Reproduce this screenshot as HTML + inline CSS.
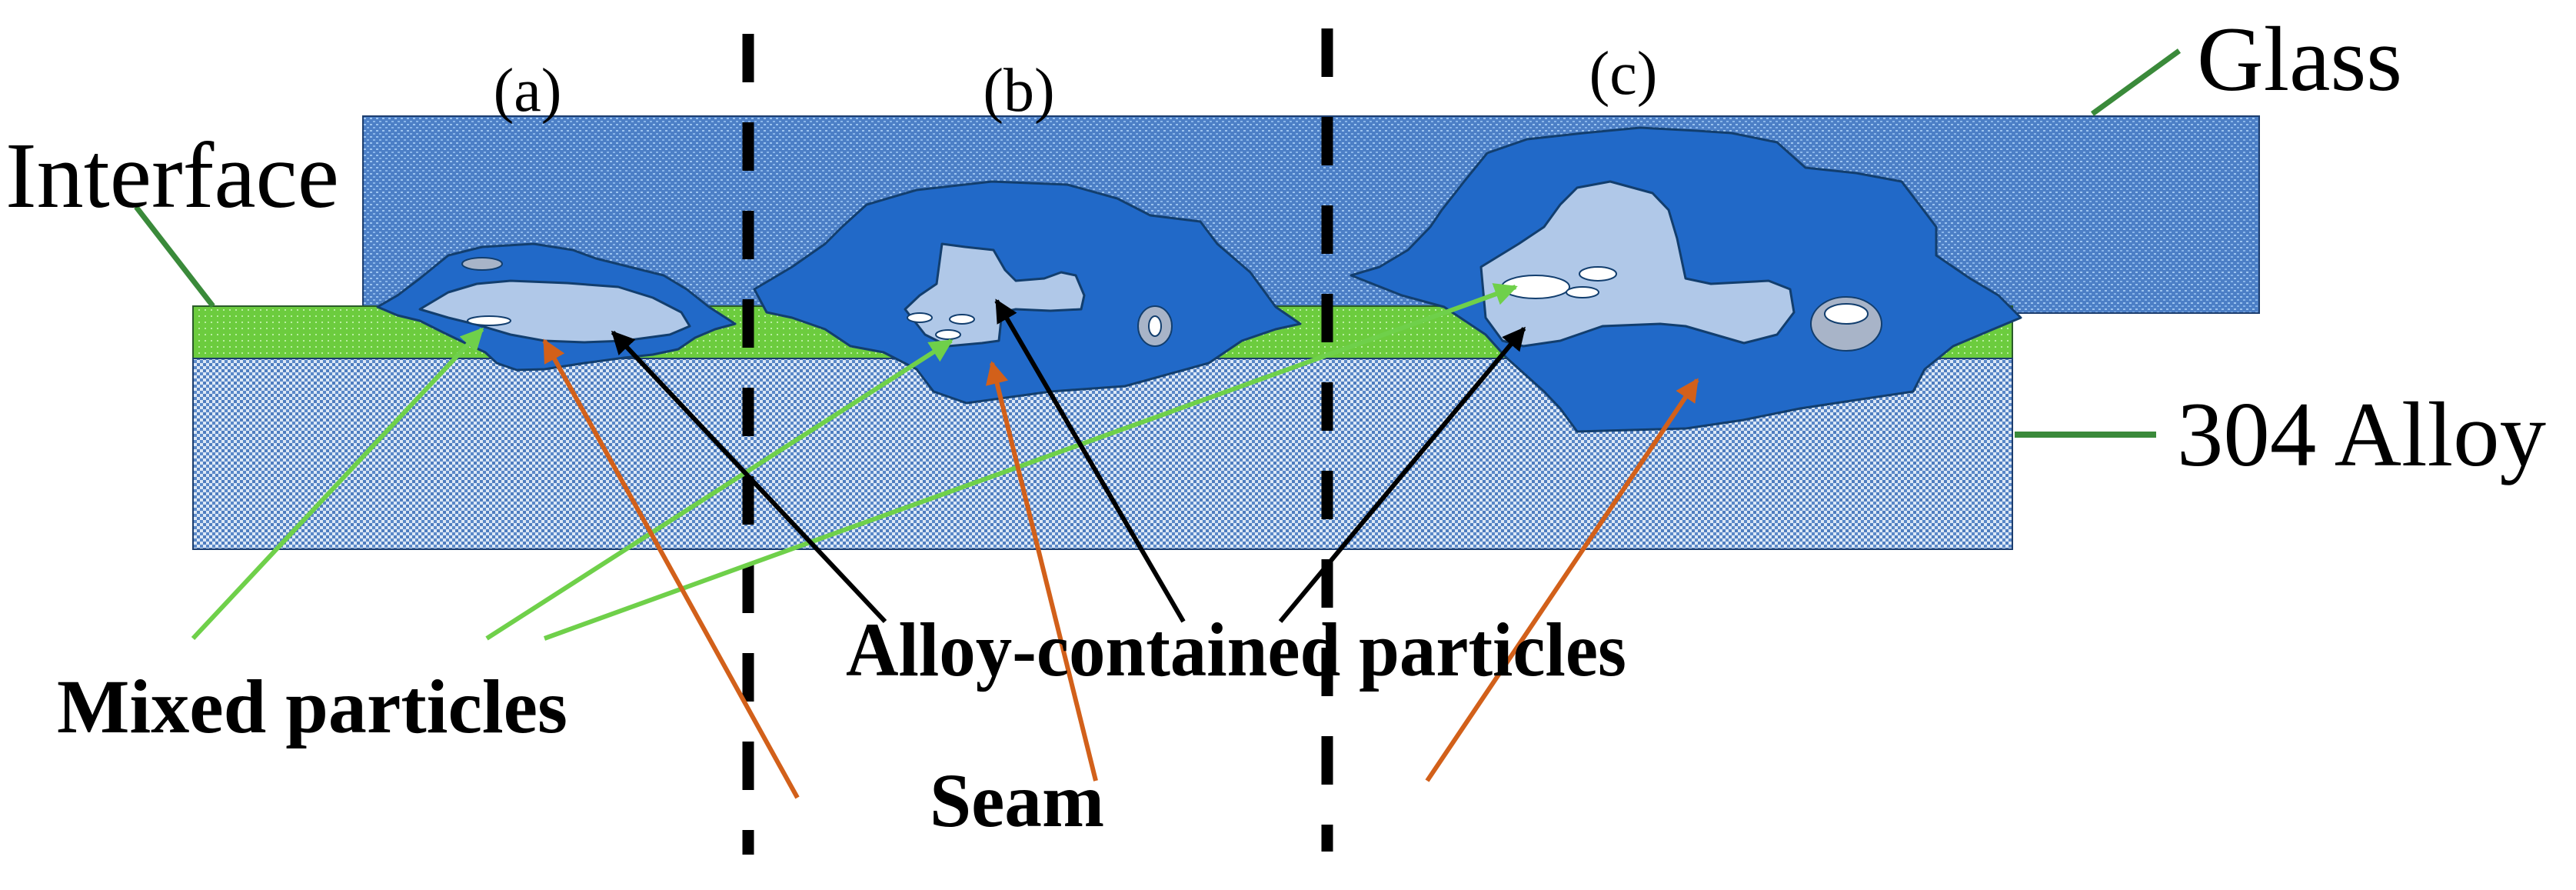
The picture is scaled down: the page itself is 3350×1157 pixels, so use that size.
<!DOCTYPE html>
<html><head><meta charset="utf-8"><style>html,body{margin:0;padding:0;background:#fff}svg{display:block}</style></head>
<body>
<svg width="3350" height="1157" viewBox="0 0 3350 1157" xmlns="http://www.w3.org/2000/svg">
<defs>
<pattern id="pg" width="8" height="8" patternUnits="userSpaceOnUse"><rect width="8" height="8" fill="#4c7fc6"/><rect x="1" y="1" width="3" height="2" fill="#9cc4f0"/><rect x="5" y="5" width="3" height="2" fill="#8ab6ea"/></pattern>
<pattern id="pa" width="8" height="8" patternUnits="userSpaceOnUse"><rect width="8" height="8" fill="#dce8f6"/><rect x="0" y="0" width="4" height="4" fill="#4f7dbf"/><rect x="4" y="4" width="4" height="4" fill="#5a88c8"/></pattern>
<pattern id="pgr" width="8" height="8" patternUnits="userSpaceOnUse"><rect width="8" height="8" fill="#6ccc3e"/><rect x="2" y="2" width="2" height="2" fill="#b8eea0"/></pattern>
<marker id="mk" viewBox="0 0 10 10" refX="9" refY="5" markerWidth="5" markerHeight="5" orient="auto"><path d="M0,0 L10,5 L0,10 z" fill="#000"/></marker>
<marker id="mg" viewBox="0 0 10 10" refX="9" refY="5" markerWidth="5" markerHeight="5" orient="auto"><path d="M0,0 L10,5 L0,10 z" fill="#6fd04a"/></marker>
<marker id="mo" viewBox="0 0 10 10" refX="9" refY="5" markerWidth="5" markerHeight="5" orient="auto"><path d="M0,0 L10,5 L0,10 z" fill="#d2601a"/></marker>
</defs>

<rect x="472" y="151" width="2466" height="256" fill="url(#pg)" stroke="#1c3d6e" stroke-width="2"/>
<rect x="251" y="398" width="2366" height="68" fill="url(#pgr)" stroke="#2a5a2a" stroke-width="2"/>
<rect x="251" y="466" width="2366" height="248" fill="url(#pa)" stroke="#1c3d6e" stroke-width="2"/>

<polygon points="491,399 517,384 546,362 583,332 627,321 694,317 745,325 775,336 819,347 863,358 893,376 922,399 956,421 930,428 904,439 882,454 849,461 812,465 760,472 708,480 672,481 646,472 631,458 605,446 576,432 546,417 517,410" fill="#2169c8" stroke="#123e6e" stroke-width="3" stroke-linejoin="round"/>
<polygon points="546,402 583,380 620,369 664,365 738,368 804,373 849,387 886,406 897,424 871,435 812,443 760,445 708,443 664,435 620,422 583,413" fill="#b0c8e8" stroke="#123e6e" stroke-width="3" stroke-linejoin="round"/>
<ellipse cx="627" cy="343" rx="26" ry="8" fill="#a8b4c8" stroke="#123e6e" stroke-width="2"/>
<ellipse cx="636" cy="417" rx="28" ry="6" fill="#fff" stroke="#123e6e" stroke-width="2"/>

<polygon points="981,376 1030,347 1073,317 1095,295 1127,266 1192,247 1290,236 1388,240 1453,258 1496,280 1561,288 1583,317 1626,354 1659,399 1691,421 1659,428 1615,443 1572,472 1463,502 1366,509 1257,524 1214,509 1192,480 1149,458 1106,450 1073,428 1030,413 997,406" fill="#2169c8" stroke="#123e6e" stroke-width="3" stroke-linejoin="round"/>
<polygon points="1225,317 1255,321 1292,325 1307,351 1321,365 1358,362 1380,354 1399,358 1410,384 1406,402 1366,404 1321,402 1303,406 1299,443 1277,446 1233,450 1203,435 1177,402 1196,384 1218,369" fill="#b0c8e8" stroke="#123e6e" stroke-width="3" stroke-linejoin="round"/>
<ellipse cx="1196" cy="413" rx="16" ry="6" fill="#fff" stroke="#123e6e" stroke-width="2"/>
<ellipse cx="1251" cy="415" rx="16" ry="6" fill="#fff" stroke="#123e6e" stroke-width="2"/>
<ellipse cx="1233" cy="435" rx="16" ry="6" fill="#fff" stroke="#123e6e" stroke-width="2"/>
<ellipse cx="1502" cy="424" rx="22" ry="26" fill="#a8b4c8" stroke="#123e6e" stroke-width="2"/>
<ellipse cx="1502" cy="424" rx="8" ry="13" fill="#fff" stroke="#123e6e" stroke-width="2"/>

<polygon points="1757,358 1794,347 1831,325 1860,295 1875,273 1904,236 1934,199 1986,181 2059,173 2133,166 2207,170 2252,173 2311,185 2348,218 2414,225 2473,236 2496,266 2518,295 2518,332 2562,362 2599,384 2628,413 2592,428 2540,450 2503,480 2488,509 2414,520 2341,531 2267,546 2193,557 2051,561 2029,531 2008,509 1959,465 1932,435 1899,413 1878,399 1823,384" fill="#2169c8" stroke="#123e6e" stroke-width="3" stroke-linejoin="round"/>
<polygon points="1926,347 1975,317 2008,295 2029,266 2051,244 2094,236 2149,251 2170,273 2181,310 2192,362 2225,369 2300,365 2328,376 2333,406 2311,435 2268,446 2192,424 2159,421 2084,424 2029,443 1981,450 1954,443 1932,413" fill="#b0c8e8" stroke="#123e6e" stroke-width="3" stroke-linejoin="round"/>
<ellipse cx="1997" cy="373" rx="44" ry="15" fill="#fff" stroke="#123e6e" stroke-width="2"/>
<ellipse cx="2078" cy="356" rx="24" ry="9" fill="#fff" stroke="#123e6e" stroke-width="2"/>
<ellipse cx="2058" cy="380" rx="21" ry="7" fill="#fff" stroke="#123e6e" stroke-width="2"/>
<ellipse cx="2401" cy="421" rx="46" ry="35" fill="#a8b4c8" stroke="#123e6e" stroke-width="2"/>
<ellipse cx="2401" cy="408" rx="28" ry="13" fill="#fff" stroke="#123e6e" stroke-width="2"/>

<line x1="973" y1="44" x2="973" y2="1111" stroke="#000" stroke-width="15" stroke-dasharray="63 52"/>
<line x1="1726" y1="37" x2="1726" y2="1107" stroke="#000" stroke-width="15" stroke-dasharray="63 52"/>

<line x1="177" y1="269" x2="277" y2="398" stroke="#3a8a3a" stroke-width="7"/>
<line x1="2721" y1="148" x2="2834" y2="66" stroke="#3a8a3a" stroke-width="7"/>
<line x1="2620" y1="565" x2="2804" y2="565" stroke="#3a8a3a" stroke-width="8"/>

<g stroke-width="6" fill="none">
<line x1="251" y1="830" x2="627" y2="428" stroke="#6fd04a" marker-end="url(#mg)"/>
<line x1="633" y1="830" x2="1237" y2="443" stroke="#6fd04a" marker-end="url(#mg)"/>
<line x1="708" y1="830" x2="1971" y2="373" stroke="#6fd04a" marker-end="url(#mg)"/>
<line x1="1037" y1="1037" x2="708" y2="443" stroke="#d2601a" marker-end="url(#mo)"/>
<line x1="1425" y1="1015" x2="1290" y2="472" stroke="#d2601a" marker-end="url(#mo)"/>
<line x1="1856" y1="1015" x2="2207" y2="494" stroke="#d2601a" marker-end="url(#mo)"/>
<line x1="1151" y1="808" x2="797" y2="432" stroke="#000" marker-end="url(#mk)"/>
<line x1="1539" y1="808" x2="1296" y2="391" stroke="#000" marker-end="url(#mk)"/>
<line x1="1665" y1="808" x2="1982" y2="427" stroke="#000" marker-end="url(#mk)"/>
</g>

<g font-family="'Liberation Serif', serif" fill="#000">
<text x="686" y="144" font-size="80" text-anchor="middle">(a)</text>
<text x="1325" y="144" font-size="80" text-anchor="middle">(b)</text>
<text x="2111" y="122" font-size="80" text-anchor="middle">(c)</text>
<text x="7" y="269" font-size="122" textLength="434" lengthAdjust="spacingAndGlyphs">Interface</text>
<text x="2857" y="117" font-size="120" textLength="267" lengthAdjust="spacingAndGlyphs">Glass</text>
<text x="2831" y="605" font-size="120" textLength="480" lengthAdjust="spacingAndGlyphs">304 Alloy</text>
<text x="74" y="952" font-size="100" font-weight="bold" textLength="664" lengthAdjust="spacingAndGlyphs">Mixed particles</text>
<text x="1100" y="878" font-size="100" font-weight="bold" textLength="1015" lengthAdjust="spacingAndGlyphs">Alloy-contained particles</text>
<text x="1209" y="1074" font-size="100" font-weight="bold" textLength="227" lengthAdjust="spacingAndGlyphs">Seam</text>
</g>
</svg>
</body></html>
